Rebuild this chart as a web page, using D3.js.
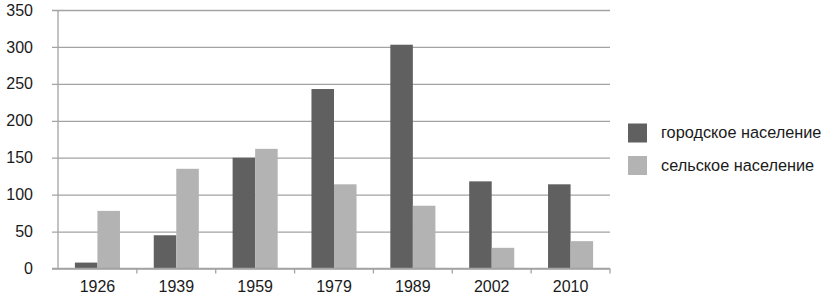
<!DOCTYPE html>
<html>
<head>
<meta charset="utf-8">
<script src="https://cdn.jsdelivr.net/npm/d3@7"></script>
<style>
    body { margin: 0; background: #fff; }
    svg { display: block; font-family: "Liberation Sans", Arial, sans-serif; }
</style>
</head>
<body>
<div id="chart"></div>
<script>
var years = ["1926", "1939", "1959", "1979", "1989", "2002", "2010"];
var urban = [8, 45, 150, 243, 303, 118, 114];
var rural = [78, 135, 162, 114, 85, 28, 37];
var seriesNames = ["городское население", "сельское население"];
var seriesColors = ["#606060", "#b3b3b3"];
var yTicks = [0, 50, 100, 150, 200, 250, 300, 350];

(function() {
    var width = 827,
        height = 296,
        left = 58,
        right = 610,
        top = 10,
        bottom = 268.5;

    var svg = d3.select("#chart")
                .append("svg")
                .attr("width", width)
                .attr("height", height);

    var x = d3.scaleBand()
              .domain(years)
              .range([left, right]);

    // two bars per year, with 3/4 of a bar width free on each side
    var inner = d3.scaleBand()
                  .domain([0, 1])
                  .range([0, x.bandwidth()])
                  .paddingOuter(0.75)
                  .paddingInner(0);

    var y = d3.scaleLinear()
              .domain([0, 350])
              .range([bottom, top]);

    // gridlines + labels
    var yAxis = d3.axisLeft(y)
                  .tickValues(yTicks)
                  .tickSize(right - left + 6)
                  .tickSizeOuter(0);

    var gy = svg.append("g")
                .attr("transform", "translate(" + right + ",0)")
                .call(yAxis);
    gy.select(".domain").remove();
    gy.selectAll(".tick line")
      .attr("stroke", "#a3a3a3")
      .attr("stroke-width", 1.3);
    gy.selectAll(".tick text")
      .attr("x", -(right - left) - 25)
      .attr("text-anchor", "end")
      .attr("fill", "#1a1a1a")
      .style("font-size", "16px");

    // vertical axis line
    svg.append("line")
       .attr("x1", left).attr("x2", left)
       .attr("y1", top).attr("y2", bottom)
       .attr("stroke", "#a3a3a3")
       .attr("stroke-width", 1.3);

    var rows = years.map(function(yr, i) {
        return {year: yr, values: [urban[i], rural[i]]};
    });

    var groups = svg.selectAll(".yearGroup")
                    .data(rows)
                    .enter()
                    .append("g")
                    .attr("class", "yearGroup")
                    .attr("transform", function(d) { return "translate(" + x(d.year) + ",0)"; });

    groups.selectAll("rect")
          .data(function(d) { return d.values; })
          .enter()
          .append("rect")
          .attr("x", function(d, i) { return inner(i); })
          .attr("width", inner.bandwidth())
          .attr("y", function(d) { return y(d); })
          .attr("height", function(d) { return bottom - y(d); })
          .attr("fill", function(d, i) { return seriesColors[i]; });

    // bottom axis
    var xAxis = d3.axisBottom(x)
                  .tickSize(0)
                  .tickPadding(12);

    var gx = svg.append("g")
                .attr("transform", "translate(0," + bottom + ")")
                .call(xAxis);
    gx.select(".domain").remove();
    gx.selectAll(".tick text")
      .attr("fill", "#1a1a1a")
      .style("font-size", "16px");

    svg.append("line")
       .attr("x1", left - 6).attr("x2", right)
       .attr("y1", bottom).attr("y2", bottom)
       .attr("stroke", "#a3a3a3")
       .attr("stroke-width", 1.3);

    // small tick marks between categories
    var boundaries = years.map(function(yr) { return x(yr) + x.bandwidth(); });
    svg.selectAll(".catTick")
       .data(boundaries)
       .enter()
       .append("line")
       .attr("class", "catTick")
       .attr("x1", function(d) { return d; })
       .attr("x2", function(d) { return d; })
       .attr("y1", bottom)
       .attr("y2", bottom + 5)
       .attr("stroke", "#a3a3a3")
       .attr("stroke-width", 1.3);

    // legend
    var legend = svg.selectAll(".legendRow")
                    .data(seriesNames)
                    .enter()
                    .append("g")
                    .attr("class", "legendRow")
                    .attr("transform", function(d, i) { return "translate(628," + (123.5 + i * 32.5) + ")"; });

    legend.append("rect")
          .attr("width", 19)
          .attr("height", 19)
          .attr("fill", function(d, i) { return seriesColors[i]; });

    legend.append("text")
          .attr("x", 33)
          .attr("y", 14.5)
          .attr("fill", "#1a1a1a")
          .style("font-size", "16.3px")
          .text(function(d) { return d; });
})();
</script>
</body>
</html>
